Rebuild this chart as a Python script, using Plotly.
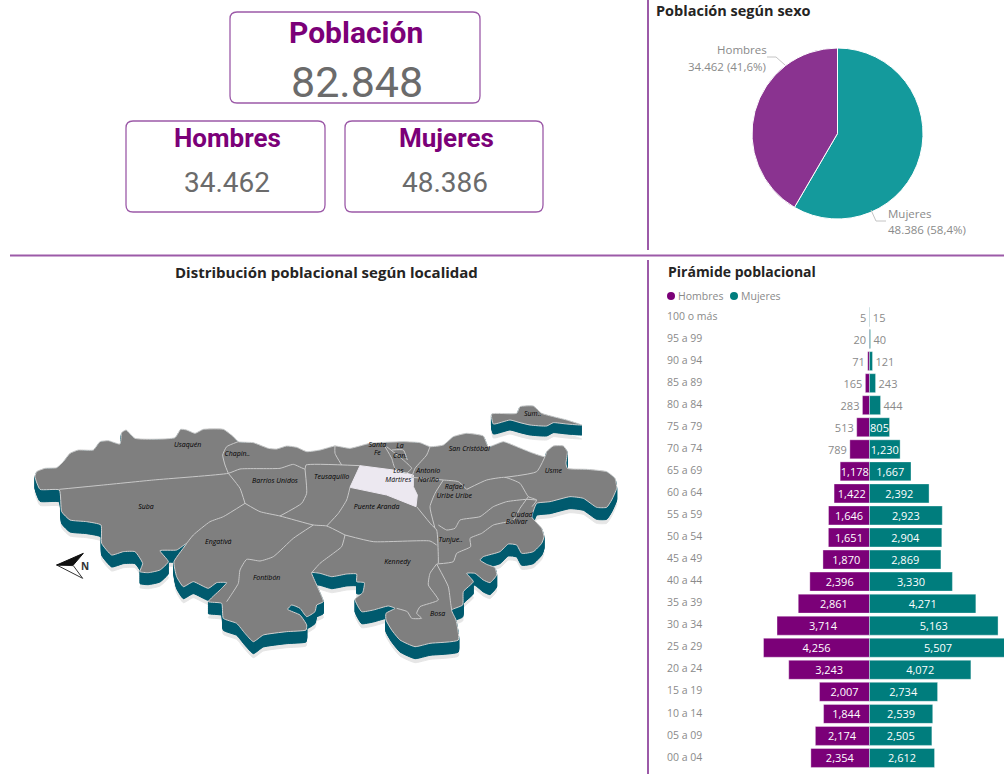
import plotly.graph_objects as go

# ---------- data ----------
age_groups = ["100 o más", "95 a 99", "90 a 94", "85 a 89", "80 a 84", "75 a 79", "70 a 74",
              "65 a 69", "60 a 64", "55 a 59", "50 a 54", "45 a 49", "40 a 44", "35 a 39",
              "30 a 34", "25 a 29", "20 a 24", "15 a 19", "10 a 14", "05 a 09", "00 a 04"]
hombres = [5, 20, 71, 165, 283, 513, 789, 1178, 1422, 1646, 1651, 1870, 2396, 2861,
           3714, 4256, 3243, 2007, 1844, 2174, 2354]
mujeres = [15, 40, 121, 243, 444, 805, 1230, 1667, 2392, 2923, 2904, 2869, 3330, 4271,
           5163, 5507, 4072, 2734, 2539, 2505, 2612]
sexo_labels = ["Mujeres", "Hombres"]
sexo_values = [48386, 34462]

# Map geometry, in map units
map_outline = [
    (45,230),(50,215),(75,205),(110,203),(130,185),(150,160),(175,150),(220,150),(240,125),(265,122),
    (300,132),(305,98),(318,90),(345,115),(465,113),(482,88),(500,90),(525,100),(550,88),(610,88),
    (640,110),(655,125),(700,128),(745,145),(770,147),(800,138),(830,142),(860,155),(900,150),
    (945,138),(990,145),(1050,130),(1150,125),(1200,128),(1230,140),(1270,135),
    (1300,110),(1340,100),(1390,108),(1405,140),(1450,125),(1490,140),(1540,160),(1575,170),(1580,155),
    (1600,138),(1630,138),(1642,155),(1638,190),(1642,205),(1700,208),(1760,215),(1785,235),(1790,265),
    (1775,300),(1760,322),(1730,322),(1690,295),(1650,290),(1590,305),(1550,310),(1538,340),(1536,352),
    (1565,385),(1572,410),(1565,430),(1540,455),(1505,460),(1490,435),(1465,432),(1440,455),(1390,470),
    (1380,480),(1400,493),(1425,503),(1430,525),(1410,548),(1390,540),(1365,520),(1340,520),(1360,545),
    (1330,575),(1328,615),(1295,630),(1308,660),(1315,720),(1230,730),(1185,740),(1140,720),(1115,690),
    (1098,660),(1098,640),(1125,625),(1105,618),(1060,630),(1025,635),(1005,598),(1028,578),(1033,548),
    (1010,545),(1010,522),(980,522),(935,530),(900,520),(875,518),(890,555),(910,605),(890,615),(885,635),
    (860,650),(840,625),(815,615),(803,628),(840,645),(860,675),(858,690),(800,695),(730,705),(700,725),
    (675,700),(650,670),(610,655),(605,610),(565,605),(600,570),(620,548),(590,548),(565,565),(520,545),
    (490,560),(470,530),(462,485),(500,430),(470,450),(420,452),(445,485),(420,510),(385,518),(360,515),
    (368,490),(345,455),(310,455),(275,465),(245,430),(243,375),(200,365),(150,360),(125,335),(118,270),
    (60,268),(45,230),
]
island_outline = [(1415,42),(1490,40),(1500,20),(1540,18),(1565,40),(1600,50),(1640,60),(1685,75),
                  (1640,72),(1600,68),(1580,78),(1530,75),(1500,68),(1470,60),(1420,72),(1415,42)]
martires_outline = [(1020,197),(1120,210),(1180,225),(1180,260),(1192,285),(1188,320),(1100,285),
                    (1030,270),(990,262),(1020,197)]
map_borders = [
    [(118,268),(250,255),(400,240),(625,220),(660,207),(780,205),(820,193),(855,207),(858,195),(1020,197)],
    [(655,125),(620,140),(608,165),(615,195),(625,220)],
    [(625,220),(660,265),(675,310)],
    [(675,310),(610,350),(570,365),(520,405),(500,430)],
    [(675,310),(720,335),(780,348),(880,375),(920,378),(975,405)],
    [(855,207),(860,280),(845,310),(780,348)],
    [(880,375),(820,415),(760,470),(720,483),(680,478),(660,510),(655,550),(630,590),(620,605)],
    [(975,405),(965,440),(940,460),(900,490),(875,518)],
    [(975,405),(1060,425),(1230,423),(1250,435)],
    [(990,262),(980,300),(955,340),(920,378)],
    [(945,135),(945,160),(965,195)],
    [(1095,140),(1115,175),(1125,205),(1158,220),(1175,205),(1150,180),(1100,140)],
    [(1115,150),(1150,150),(1162,180)],
    [(1230,140),(1220,165),(1185,205),(1175,232)],
    [(1190,320),(1235,375),(1250,390),(1255,470),(1255,490)],
    [(1175,232),(1270,240),(1315,245),(1340,268)],
    [(1270,240),(1245,280),(1230,320),(1245,385)],
    [(1340,268),(1400,240),(1455,232),(1500,250),(1525,290),(1550,300),(1536,320)],
    [(1455,232),(1550,215),(1575,170)],
    [(1255,375),(1280,390),(1305,385),(1320,360),(1380,350),(1420,320),(1460,305),(1520,298),(1550,300)],
    [(1525,290),(1500,325),(1480,360),(1420,375),(1385,400),(1350,415),(1352,440),(1310,460),(1300,485),(1250,492)],
    [(1250,492),(1230,520),(1225,555),(1255,600),(1200,620),(1190,640),(1205,655),(1175,655),(1162,635),(1130,625)],
    [(1250,492),(1285,560),(1292,610),(1295,630)],
]
map_labels = ["Usaquén", "Chapin..", "Barrios Unidos", "Teusaquillo", "Suba", "Engativá", "Fontibón",
              "Santa", "Fe", "La", "Can.", "Los", "Mártires", "Antonio", "Nariño", "San Cristóbal",
              "Rafael", "Uribe Uribe", "Usme", "Puente Aranda", "Ciudad", "Bolívar", "Tunjue..",
              "Kennedy", "Bosa", "Sum.."]
map_label_x = [503, 652, 765, 935, 378, 595, 740, 1072, 1072, 1140, 1140, 1135, 1135, 1225, 1225, 1348,
               1303, 1303, 1600, 1070, 1505, 1490, 1292, 1132, 1253, 1538]
map_label_y = [136, 164, 243, 232, 322, 428, 535, 137, 160, 140, 168, 215, 240, 215, 240, 148,
               262, 290, 215, 322, 345, 368, 422, 488, 642, 42]
compass_dark = [(110,495),(190,460),(160,495),(110,495)]
compass_light = [(110,495),(160,497),(188,535),(110,495)]

# ---------- colours ----------
PURPLE = "#7b0078"
TEAL = "#007d7d"
PIE_PURPLE = "#8a3390"
PIE_TEAL = "#149a9c"
FRAME = "#9c5aa8"
TXT_GRAY = "#8a8a8a"
TITLE_INK = "#252423"
UI_FONT = "Open Sans"
KPI_FONT = "Roboto"

W, H = 1004, 774
def px_x(v): return v / W
def px_y(v): return 1 - v / H

fig = go.Figure()

# ---------- pyramid ----------
bar_x_dom = [px_x(660), 1]
bar_y_dom = [px_y(769), px_y(306)]
BAR_RANGE = [-8414, 5402]
for name, vals, col, sign in [("Hombres", hombres, PURPLE, -1), ("Mujeres", mujeres, TEAL, 1)]:
    small = [v < (800 if sign > 0 else 1000) for v in vals]
    fig.add_trace(go.Bar(
        y=age_groups, x=[sign * v for v in vals], base=0, orientation="h", name=name,
        marker=dict(color=col, line=dict(color="rgba(255,255,255,0.35)", width=1)),
        text=[f"{v:,}" for v in vals],
        textposition=["outside" if s else "inside" for s in small],
        insidetextanchor="middle", constraintext="none", cliponaxis=True,
        insidetextfont=dict(color="white", size=11, family=UI_FONT),
        outsidetextfont=dict(color=TXT_GRAY, size=11, family=UI_FONT),
        showlegend=False, xaxis="x", yaxis="y"))
# left-aligned category labels
fig.add_trace(go.Scatter(x=[-8130] * len(age_groups), y=age_groups, mode="text", text=age_groups,
                         textposition="middle right",
                         textfont=dict(size=10.5, color=TXT_GRAY, family=UI_FONT),
                         hoverinfo="skip", showlegend=False, xaxis="x", yaxis="y"))

# ---------- pie ----------
fig.add_trace(go.Pie(
    labels=sexo_labels, values=sexo_values, sort=False, direction="clockwise", rotation=0,
    marker=dict(colors=[PIE_TEAL, PIE_PURPLE], line=dict(color="white", width=1)),
    textinfo="none", showlegend=False,
    domain=dict(x=[px_x(752), px_x(923)], y=[px_y(219), px_y(48)])))

# ---------- map ----------
def xs(p): return [a for a, _ in p]
def ys(p, d=0): return [b + d for _, b in p]
def layered(depths, outline):
    X, Y = [], []
    for d in depths:
        X += xs(outline) + [None]
        Y += ys(outline, d) + [None]
    return X, Y
SPL = dict(shape="spline", smoothing=0.45)

for outline, depth in [(map_outline, 36), (island_outline, 30)]:
    X, Y = layered([depth + 12], outline)
    fig.add_trace(go.Scatter(x=X, y=Y, mode="lines", fill="toself", fillcolor="#e6e6e6",
                             line=dict(color="#e6e6e6", width=1, **SPL), hoverinfo="skip",
                             showlegend=False, xaxis="x2", yaxis="y2"))
    steps = [depth * i / 18 for i in range(1, 19)]
    X, Y = layered(steps, outline)
    fig.add_trace(go.Scatter(x=X, y=Y, mode="lines", fill="toself", fillcolor="#005a6e",
                             line=dict(color="#005a6e", width=1, **SPL), hoverinfo="skip",
                             showlegend=False, xaxis="x2", yaxis="y2"))
    fig.add_trace(go.Scatter(x=xs(outline), y=ys(outline), mode="lines", fill="toself",
                             fillcolor="#7f7f7f", line=dict(color="#d0d0d0", width=1, **SPL),
                             hoverinfo="skip", showlegend=False, xaxis="x2", yaxis="y2"))
fig.add_trace(go.Scatter(x=xs(martires_outline), y=ys(martires_outline), mode="lines", fill="toself",
                         fillcolor="#ece8f0", line=dict(color="#ece8f0", width=1), hoverinfo="skip",
                         showlegend=False, xaxis="x2", yaxis="y2"))
for b in map_borders:
    fig.add_trace(go.Scatter(x=xs(b), y=ys(b), mode="lines", line=dict(color="#c8c8c8", width=1, **SPL),
                             hoverinfo="skip", showlegend=False, xaxis="x2", yaxis="y2"))
fig.add_trace(go.Scatter(x=map_label_x, y=map_label_y, mode="text",
                         text=[f"<i>{t}</i>" for t in map_labels],
                         textfont=dict(family=UI_FONT, size=7, color="#000000"), hoverinfo="skip",
                         showlegend=False, xaxis="x2", yaxis="y2"))
fig.add_trace(go.Scatter(x=xs(compass_light), y=ys(compass_light), mode="lines", fill="toself",
                         fillcolor="white", line=dict(color="#333333", width=1), hoverinfo="skip",
                         showlegend=False, xaxis="x2", yaxis="y2"))
fig.add_trace(go.Scatter(x=xs(compass_dark), y=ys(compass_dark), mode="lines", fill="toself",
                         fillcolor="#111111", line=dict(color="#111111", width=1), hoverinfo="skip",
                         showlegend=False, xaxis="x2", yaxis="y2"))

# ---------- layout decoration ----------
shapes = []
def frame(x0, y0, x1, y1, r=7):
    path = (f"M{px_x(x0+r)},{px_y(y0)} L{px_x(x1-r)},{px_y(y0)} Q{px_x(x1)},{px_y(y0)} {px_x(x1)},{px_y(y0+r)} "
            f"L{px_x(x1)},{px_y(y1-r)} Q{px_x(x1)},{px_y(y1)} {px_x(x1-r)},{px_y(y1)} "
            f"L{px_x(x0+r)},{px_y(y1)} Q{px_x(x0)},{px_y(y1)} {px_x(x0)},{px_y(y1-r)} "
            f"L{px_x(x0)},{px_y(y0+r)} Q{px_x(x0)},{px_y(y0)} {px_x(x0+r)},{px_y(y0)} Z")
    shapes.append(dict(type="path", path=path, xref="paper", yref="paper",
                       line=dict(color=FRAME, width=1.3)))
frame(230, 12, 480, 103)
frame(126, 121, 325, 212)
frame(345, 121, 543, 212)

def rule(x0, y0, x1, y1, color=FRAME, width=2):
    shapes.append(dict(type="line", xref="paper", yref="paper", x0=px_x(x0), y0=px_y(y0),
                       x1=px_x(x1), y1=px_y(y1), line=dict(color=color, width=width)))
rule(10, 255.5, 1004, 255.5)
rule(648, 0, 648, 250)
rule(648, 260, 648, 774)
for seg in [((767, 57), (776, 57)), ((776, 57), (785, 65)), ((871, 210), (876, 221)), ((876, 221), (886, 221))]:
    rule(seg[0][0], seg[0][1], seg[1][0], seg[1][1], color="#c4c4c4", width=1)
for cx, col in [(671, PURPLE), (734, TEAL)]:
    shapes.append(dict(type="circle", xref="paper", yref="paper", x0=px_x(cx-4), x1=px_x(cx+4),
                       y0=px_y(300), y1=px_y(292), fillcolor=col, line=dict(width=0)))

ann = []
def label(x, y, text, size, color, family=UI_FONT, anchor="center", bold=False):
    ann.append(dict(xref="paper", yref="paper", x=px_x(x), y=px_y(y), text=f"<b>{text}</b>" if bold else text,
                    showarrow=False, xanchor=anchor, yanchor="middle",
                    font=dict(size=size, color=color, family=family)))
label(356, 32, "Población", 30, PURPLE, KPI_FONT, bold=True)
label(357, 82, "82.848", 43, "#6b6b6b", KPI_FONT)
label(227, 138, "Hombres", 26, PURPLE, KPI_FONT, bold=True)
label(227, 183, "34.462", 28, "#6b6b6b", KPI_FONT)
label(446, 138, "Mujeres", 26, PURPLE, KPI_FONT, bold=True)
label(445, 183, "48.386", 28, "#6b6b6b", KPI_FONT)
label(654, 10.5, "Población según sexo", 14.5, TITLE_INK, anchor="left", bold=True)
label(326, 272, "Distribución poblacional según localidad", 15, TITLE_INK, bold=True)
label(666, 271, "Pirámide poblacional", 14, TITLE_INK, anchor="left", bold=True)
label(769, 50, "Hombres", 11.5, TXT_GRAY, anchor="right")
label(768, 67, "34.462 (41,6%)", 11.5, TXT_GRAY, anchor="right")
label(886, 214, "Mujeres", 11.5, TXT_GRAY, anchor="left")
label(886, 230, "48.386 (58,4%)", 11.5, TXT_GRAY, anchor="left")
label(676, 296, "Hombres", 10.5, TXT_GRAY, anchor="left")
label(739, 296, "Mujeres", 10.5, TXT_GRAY, anchor="left")
label(85, 566, "N", 10, "#333333", bold=True)

fig.update_layout(
    width=W, height=H, margin=dict(l=0, r=0, t=0, b=0),
    paper_bgcolor="white", plot_bgcolor="rgba(0,0,0,0)",
    barmode="overlay", bargap=0.14, shapes=shapes, annotations=ann,
    font=dict(family=UI_FONT),
    xaxis=dict(domain=bar_x_dom, range=BAR_RANGE, visible=False, fixedrange=True),
    yaxis=dict(domain=bar_y_dom, range=[20.5, -0.5], visible=False, categoryorder="array",
               categoryarray=age_groups, fixedrange=True),
    xaxis2=dict(domain=[0, 1], range=[-60, 2952], visible=False, fixedrange=True, anchor="y2"),
    yaxis2=dict(domain=[0, 1], range=[1122, -1200], visible=False, fixedrange=True, anchor="x2"),
)
fig.write_html("out.html", config={"displayModeBar": False},
               post_script="document.body.style.margin='0';document.body.style.overflow='hidden';")
